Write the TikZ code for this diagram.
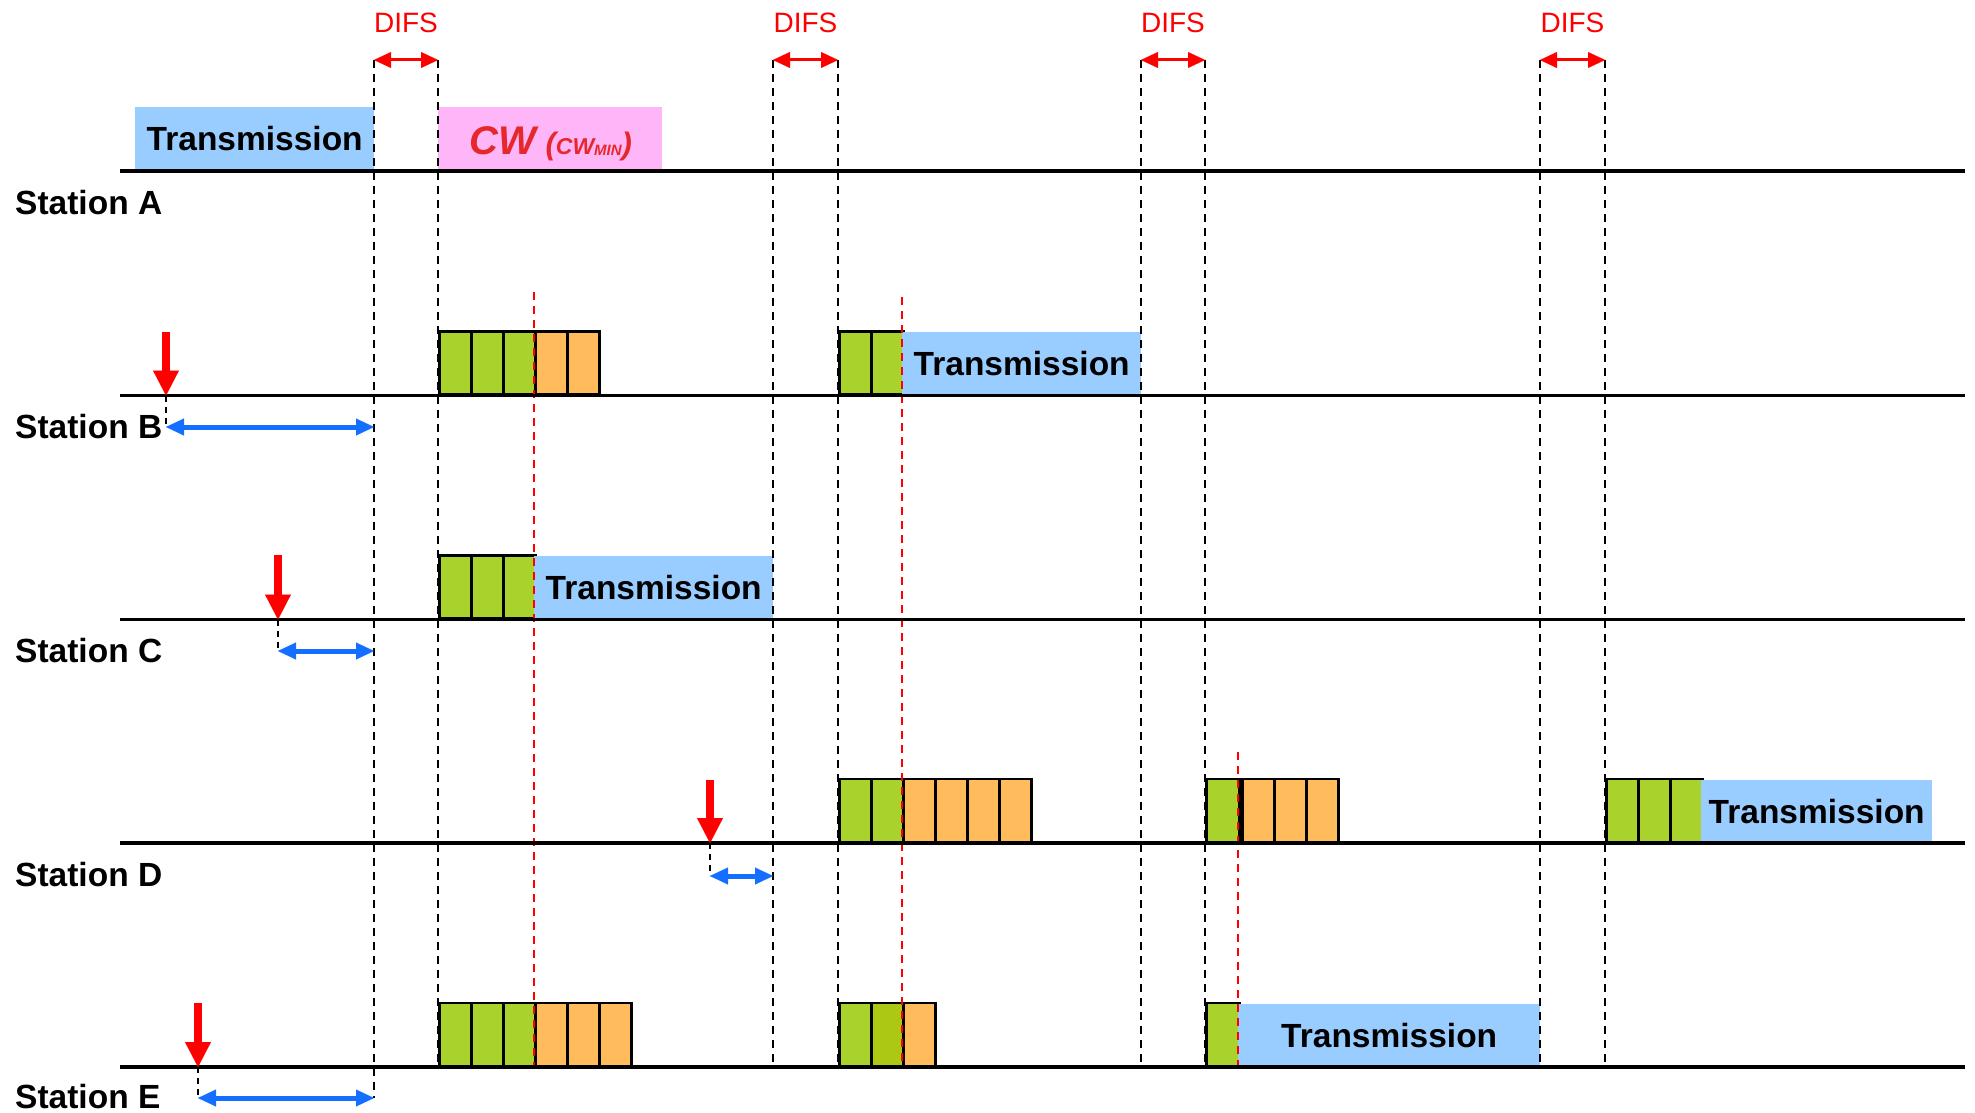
\documentclass[tikz,border=0pt]{standalone}
\usepackage{fontspec}
\setmainfont{Liberation Sans}
\usetikzlibrary{arrows.meta,calc}
\definecolor{txblue}{RGB}{153,204,255}
\definecolor{slotgreen}{RGB}{170,210,45}
\definecolor{slotgreendark}{RGB}{172,200,18}
\definecolor{slotorange}{RGB}{255,187,92}
\definecolor{cwpink}{RGB}{255,182,248}
\definecolor{cwred}{RGB}{230,40,45}
\definecolor{waitblue}{RGB}{20,110,255}
\tikzset{
  stline/.style={line width=3.5pt},
  guide/.style={line width=1.8pt, dash pattern=on 8pt off 6pt},
  shortguide/.style={line width=1.6pt, dash pattern=on 6pt off 5pt},
  redguide/.style={red, line width=1.8pt, dash pattern=on 8pt off 6pt},
  cellbox/.style={draw, line width=2.5pt, minimum width=32pt, minimum height=63pt,
    inner sep=0pt, anchor=south west},
  gcell/.style={cellbox, fill=slotgreen},
  ocell/.style={cellbox, fill=slotorange},
  txbox/.style={fill=txblue, inner sep=0pt, minimum height=63pt, anchor=south west,
    font=\fontsize{33.5}{38}\selectfont\bfseries},
  stlabel/.style={anchor=base west, inner sep=0pt, font=\fontsize{33.5}{38}\selectfont\bfseries},
  arrival/.style={red, line width=8pt, -{Triangle[length=25pt,width=26pt,line width=0.1pt]}},
  waitarrow/.style={waitblue, line width=5pt,
    {Triangle[length=18pt,width=17pt,line width=0.1pt]}-{Triangle[length=18pt,width=17pt,line width=0.1pt]}},
  difsarrow/.style={red, line width=3pt,
    {Triangle[length=17pt,width=16pt,line width=0.1pt]}-{Triangle[length=17pt,width=16pt,line width=0.1pt]}},
  difslabel/.style={red, anchor=base, inner sep=0pt, font=\fontsize{28}{32}\selectfont},
}
\begin{document}
\begin{tikzpicture}[x=1pt, y=-1pt]
\useasboundingbox (0,0) rectangle (1975,1113);

% ---- Station A: transmission and contention window
\node[txbox, minimum width=239pt, minimum height=64pt] (trA) at (135,171) {Transmission};
\node[fill=cwpink, inner sep=0pt, minimum width=224pt, minimum height=64pt, anchor=south west] (cwA) at (438,171) {};
\node[anchor=base, inner sep=0pt, text=cwred, font=\bfseries\itshape] (cwtext) at (551,154)
  {\fontsize{40}{42}\selectfont CW\hspace{9pt}{\fontsize{31}{33}\selectfont(}{\fontsize{23}{26}\selectfont CW}\raisebox{-1.5pt}{\fontsize{15}{17}\selectfont MIN}{\fontsize{31}{33}\selectfont)}};

% ---- Station B
\foreach \i in {0,1,2} \node[gcell] (bg\i) at ({438+32*\i},395.5) {};
\foreach \i in {0,1} \node[ocell] (bo\i) at ({534+32*\i},395.5) {};
\foreach \i in {0,1} \node[gcell] (bh\i) at ({838+32*\i},395.5) {};
\node[txbox, minimum width=239pt] (trB) at (902,395.5) {Transmission};

% ---- Station C
\foreach \i in {0,1,2} \node[gcell] (cg\i) at ({438+32*\i},619.5) {};
\node[txbox, minimum width=239pt] (trC) at (534,619.5) {Transmission};

% ---- Station D
\foreach \i in {0,1} \node[gcell] (dg\i) at ({838+32*\i},843) {};
\foreach \i in {0,1,2,3} \node[ocell] (do\i) at ({902+32*\i},843) {};
\node[gcell, minimum width=33pt] (dh0) at (1205,843) {};
\foreach \i in {0,1,2} \node[ocell] (dp\i) at ({1241+32*\i},843) {};
\foreach \i in {0,1,2} \node[gcell] (dk\i) at ({1605+32*\i},843) {};
\node[txbox, minimum width=231pt] (trD) at (1701,843) {Transmission};

% ---- Station E
\foreach \i in {0,1,2} \node[gcell] (eg\i) at ({438+32*\i},1067) {};
\foreach \i in {0,1,2} \node[ocell] (eo\i) at ({534+32*\i},1067) {};
\node[gcell] (eh0) at (838,1067) {};
\node[cellbox, fill=slotgreendark] (eh1) at (870,1067) {};
\node[ocell] (ep0) at (902,1067) {};
\node[gcell, minimum width=33pt] (ek0) at (1205,1067) {};
\node[txbox, minimum width=302pt] (trE) at (1238,1067) {Transmission};

% ---- slot-time guides (DIFS boundaries)
\foreach \n/\x in {g2/438,g3/773,g4/838,g5/1141,g6/1205,g7/1540,g8/1605} {
  \coordinate (\n t) at (\x,60);
  \coordinate (\n b) at (\x,1064);
}
\coordinate (g1t) at (374,60);
\coordinate (g1b) at (374,1098);
\foreach \n in {g1,g2,g3,g4,g5,g6,g7,g8} \draw[guide] (\n t) -- (\n b);

% ---- backoff freeze instants
\coordinate (r1t) at (534,292);  \coordinate (r1b) at (534,1067);
\coordinate (r2t) at (902,297);  \coordinate (r2b) at (902,1067);
\coordinate (r3t) at (1238,752); \coordinate (r3b) at (1238,1067);
\foreach \n in {r1,r2,r3} \draw[redguide] (\n t) -- (\n b);

% ---- station time axes
\foreach \n/\y in {A/171,B/395.5,C/619.5,D/843,E/1067} {
  \coordinate (L\n0) at (120,\y);
  \coordinate (L\n1) at (1965,\y);
  \draw[stline] (L\n0) -- (L\n1);
}

% ---- station labels
\node[stlabel] (labA) at (15,214) {Station A};
\node[stlabel] (labB) at (15,438.5) {Station B};
\node[stlabel] (labC) at (15,662.5) {Station C};
\node[stlabel] (labD) at (15,886) {Station D};
\node[stlabel] (labE) at (15,1108) {Station E};

% ---- DIFS intervals
\foreach \a/\b in {g1/g2,g3/g4,g5/g6,g7/g8} {
  \draw[difsarrow] (\a t) -- (\b t);
  \node[difslabel] (difs\a) at ($(\a t)!0.5!(\b t)+(0,-27)$) {DIFS};
}

% ---- frame arrivals and waiting periods
\foreach \n/\x/\yt/\yl/\yw/\g in {B/166/332/395.5/427/g1, C/278/555/619.5/651/g1,
                                  D/710/780/843/876/g3, E/198/1003/1067/1098/g1} {
  \coordinate (a\n t) at (\x,\yt);
  \coordinate (a\n l) at (\x,\yl);
  \coordinate (a\n w) at (\x,\yw);
  \coordinate (e\n w) at (\g t |- a\n w);
  \draw[arrival] (a\n t) -- (a\n l);
  \draw[shortguide] (a\n l) -- (a\n w);
  \draw[waitarrow] (a\n w) -- (e\n w);
}
\end{tikzpicture}
\end{document}
